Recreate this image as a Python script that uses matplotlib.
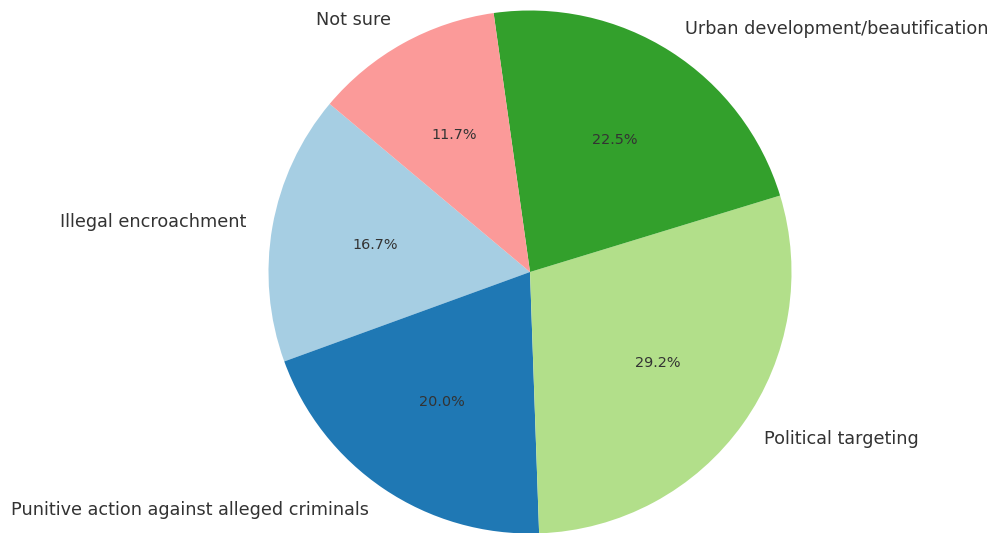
import matplotlib.pyplot as plt

# Data
labels = ['Illegal encroachment', 'Punitive action against alleged criminals',
          'Political targeting', 'Urban development/beautification', 'Not sure']
counts = [20, 24, 35, 27, 14]
colors = ['#a6cee3', '#1f78b4', '#b2df8a', '#33a02c', '#fb9a99']

fig = plt.figure(figsize=(9.94, 5.33), dpi=100)
ax = fig.add_axes([0, 0, 1, 1])

wedges, texts, autotexts = ax.pie(counts, labels=labels, colors=colors,
                                  autopct='%1.1f%%', startangle=140,
                                  textprops={'color': '#333333'})
for t in texts:
    t.set_fontsize(12.7)
for t in autotexts:
    t.set_fontsize(10.4)

# radius ~262 px, centre at (530, 272) from top-left
r = 261.5
cy = 272
ax.set_aspect('auto')
ax.set_xlim(-530 / r, (994 - 530) / r)
ax.set_ylim(-(533 - cy) / r, cy / r)
ax.axis('off')

plt.savefig('out.png', dpi=100)
